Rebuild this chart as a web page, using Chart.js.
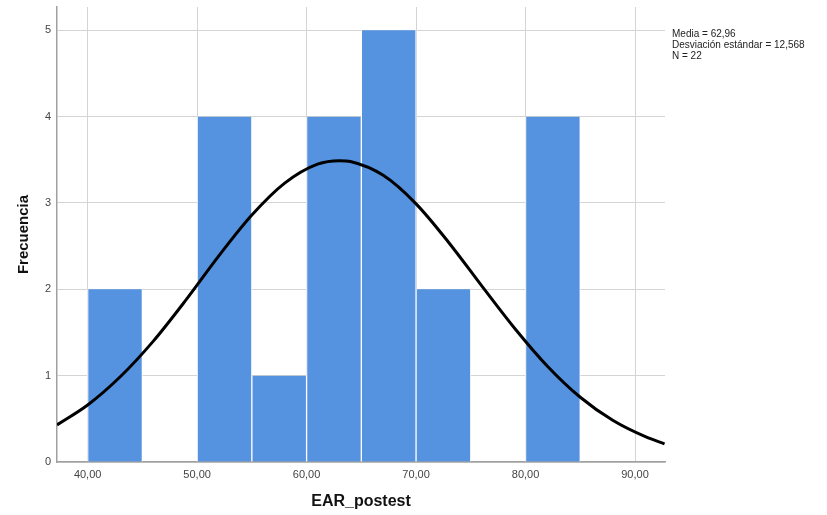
<!DOCTYPE html>
<html>
<head>
<meta charset="utf-8">
<script src="https://cdn.jsdelivr.net/npm/chart.js@4.4.1/dist/chart.umd.min.js"></script>
<style>
  html, body { margin: 0; padding: 0; background: #fff; }
  #wrap { position: relative; width: 827px; height: 515px; }
  #stats {
    position: absolute; left: 672px; top: 28px;
    font: 10px "Liberation Sans", Arial, sans-serif; color: #222; line-height: 11px;
  }
</style>
</head>
<body>
<div id="wrap">
  <canvas id="myChart" width="827" height="515"></canvas>
  <div id="stats">Media = 62,96<br>Desviación estándar = 12,568<br>N = 22</div>
</div>
<script>
// histogram bins (centre of each 5-wide bin) and counts
const binCenters = [42.5, 52.5, 57.5, 62.5, 67.5, 72.5, 82.5];
const binCounts = [2, 4, 1, 4, 5, 2, 4];

// normal curve
const curveX = [37.2, 40, 43, 46, 49, 52, 55, 58, 61, 63, 64, 67, 70, 73, 76, 79, 82, 85, 88, 91, 92.7];
const curveY = [0.43, 0.66, 0.99, 1.40, 1.88, 2.39, 2.86, 3.23, 3.45, 3.49, 3.48, 3.32, 2.99, 2.54, 2.04, 1.55, 1.11, 0.75, 0.48, 0.29, 0.21];

const xTicks = [40, 50, 60, 70, 80, 90];
const yTicks = [0, 1, 2, 3, 4, 5];

const ctx = document.getElementById('myChart');

const data = {
    datasets: [{
        type: 'line',
        data: curveX.map((x, i) => ({ x: x, y: curveY[i] })),
        borderColor: '#000',
        borderWidth: 3,
        pointRadius: 0,
        cubicInterpolationMode: 'monotone',
        fill: false,
        order: 0
    }, {
        type: 'bar',
        data: binCenters.map((x, i) => ({ x: x, y: binCounts[i] })),
        backgroundColor: '#5592e0',
        borderColor: '#ffffff',
        borderWidth: { left: 1, right: 1, top: 0, bottom: 0 },
        borderSkipped: false,
        barPercentage: 1,
        categoryPercentage: 1,
        order: 1
    }]
};

const config = {
    data: data,
    options: {
        responsive: false,
        animation: false,
        layout: { padding: { left: 0, right: 162, top: 7, bottom: 0 } },
        plugins: { legend: { display: false }, tooltip: { enabled: false } },
        scales: {
            x: {
                type: 'linear',
                offset: false,
                min: 37.2,
                max: 92.74,
                afterBuildTicks: (s) => { s.ticks = xTicks.map(v => ({ value: v })); },
                afterFit: (s) => { s.height = 53; },
                grid: { color: '#d4d4d4', lineWidth: 1, drawTicks: false, offset: false },
                border: { color: '#a0a0a0', width: 1.5 },
                ticks: {
                    padding: 6,
                    color: '#444',
                    font: { family: 'Liberation Sans', size: 11 },
                    callback: (v) => v.toFixed(2).replace('.', ',')
                },
                title: {
                    display: true,
                    text: 'EAR_postest',
                    color: '#111',
                    font: { family: 'Liberation Sans', size: 16, weight: 'bold' },
                    padding: { top: 15 }
                }
            },
            y: {
                min: 0,
                max: 5.27,
                afterBuildTicks: (s) => { s.ticks = yTicks.map(v => ({ value: v })); },
                afterFit: (s) => { s.width = 57; s.paddingTop = 0; s.paddingBottom = 0; },
                grid: { color: '#d4d4d4', lineWidth: 1, drawTicks: false },
                border: { color: '#a0a0a0', width: 1.5 },
                ticks: {
                    padding: 6,
                    color: '#444',
                    font: { family: 'Liberation Sans', size: 11 }
                },
                title: {
                    display: true,
                    text: 'Frecuencia',
                    color: '#111',
                    font: { family: 'Liberation Sans', size: 15, weight: 'bold' },
                    padding: { top: 15, bottom: 1 }
                }
            }
        }
    }
};

const myChart = new Chart(ctx, config);
</script>
</body>
</html>
